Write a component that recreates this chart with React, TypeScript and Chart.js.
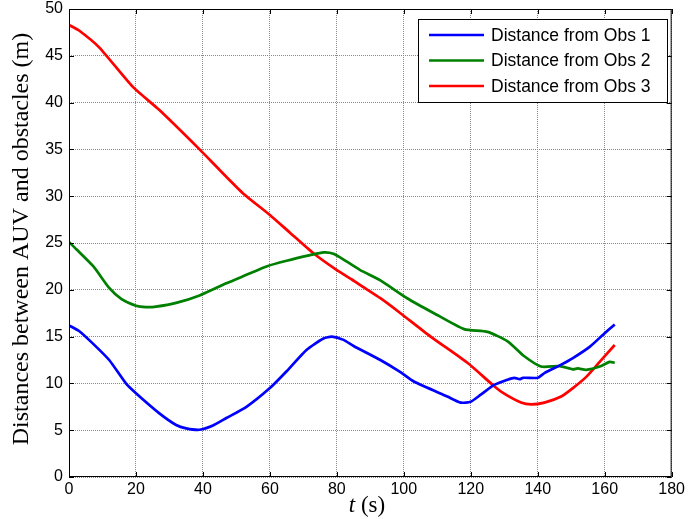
import React, { useEffect, useRef } from "react";
import { Chart, registerables } from "chart.js";

Chart.register(...registerables);

// ---- data ----
const obs1T = [0, 3, 7, 12, 17, 20, 27, 32, 35, 39, 43, 47, 53, 60, 65, 71, 76, 78.5, 82, 85, 93, 99, 103, 113, 117, 120, 123, 127, 131, 133, 134.6, 135.6, 140, 142, 147, 150.5, 155.5, 159.5, 163];
const obs1D = [16.2, 15.6, 14.3, 12.5, 10.0, 8.95, 6.8, 5.56, 5.2, 5.05, 5.5, 6.3, 7.5, 9.5, 11.3, 13.6, 14.8, 15.0, 14.65, 14.0, 12.5, 11.2, 10.2, 8.6, 7.95, 8.05, 8.8, 9.84, 10.4, 10.6, 10.45, 10.6, 10.6, 11.1, 12.0, 12.7, 13.9, 15.2, 16.3];

const obs2T = [0, 2.3, 7.3, 12, 15.7, 20, 23, 26, 32, 39, 47, 53, 59, 65, 72, 76, 79, 83, 87, 93, 101, 109, 118, 125, 131, 136, 141, 146.6, 150.5, 152, 154.5, 158.5, 161.5, 163];
const obs2D = [25.1, 24.3, 22.5, 20.2, 19.0, 18.3, 18.15, 18.2, 18.6, 19.4, 20.7, 21.6, 22.5, 23.1, 23.7, 24.0, 23.85, 23.0, 22.1, 21.0, 19.1, 17.5, 15.8, 15.5, 14.5, 12.9, 11.8, 11.85, 11.5, 11.6, 11.45, 11.8, 12.3, 12.2];

const obs3T = [0, 3, 9, 19, 27, 39, 45, 52, 60, 66, 73, 80, 84.5, 87, 93, 99, 108, 119, 127, 130, 135, 138, 142, 147, 150.5, 154.5, 158.5, 163];
const obs3D = [48.3, 47.7, 45.9, 41.7, 39.2, 35.0, 32.8, 30.3, 28.0, 26.1, 23.9, 22.1, 21.1, 20.5, 19.1, 17.5, 15.0, 12.2, 9.7, 8.9, 7.95, 7.75, 7.95, 8.6, 9.5, 10.7, 12.3, 14.1];

const seriesLabels = ["Distance from Obs 1", "Distance from Obs 2", "Distance from Obs 3"];
const seriesColors = ["#0000ff", "#008000", "#ff0000"];

const xTicks = [0, 20, 40, 60, 80, 100, 120, 140, 160, 180];
const yTicks = [0, 5, 10, 15, 20, 25, 30, 35, 40, 45, 50];

const yTitle = "Distances between AUV and obstacles (m)";
const xTitleVar = "t";
const xTitleUnit = " (s)";

const SERIF = '"Liberation Serif", "Times New Roman", serif';
const SANS = '"Liberation Sans", Arial, sans-serif';

const toPoints = (t: number[], d: number[]) => t.map((v, i) => ({ x: v, y: d[i] }));

const decorPlugin = {
  id: "decor",
  afterDraw(chart: any) {
    const { ctx, chartArea } = chart;
    const { left, right, top, bottom } = chartArea;
    const xs = chart.scales.x;
    const ys = chart.scales.y;
    ctx.save();
    // box
    ctx.strokeStyle = "#000";
    ctx.lineWidth = 1;
    ctx.setLineDash([]);
    ctx.strokeRect(left + 0.5, top + 0.5, right - left - 1, bottom - top - 1);
    // inward ticks
    const tl = 5;
    ctx.beginPath();
    xTicks.forEach((v) => {
      const p = Math.round(xs.getPixelForValue(v)) + 0.5;
      ctx.moveTo(p, bottom);
      ctx.lineTo(p, bottom - tl);
      ctx.moveTo(p, top);
      ctx.lineTo(p, top + tl);
    });
    yTicks.forEach((v) => {
      const p = Math.round(ys.getPixelForValue(v)) + 0.5;
      ctx.moveTo(left, p);
      ctx.lineTo(left + tl, p);
      ctx.moveTo(right, p);
      ctx.lineTo(right - tl, p);
    });
    ctx.stroke();

    // y title
    ctx.fillStyle = "#000";
    ctx.font = `24px ${SERIF}`;
    ctx.textAlign = "center";
    ctx.textBaseline = "middle";
    ctx.save();
    ctx.translate(22, 239);
    ctx.rotate(-Math.PI / 2);
    ctx.fillText(yTitle, 0, 0);
    ctx.restore();

    // x title: italic t + (s)
    ctx.textAlign = "left";
    ctx.textBaseline = "alphabetic";
    ctx.font = `italic 23px ${SERIF}`;
    const w1 = ctx.measureText(xTitleVar).width;
    ctx.font = `23px ${SERIF}`;
    const w2 = ctx.measureText(xTitleUnit).width;
    const cx = 367;
    const sx = cx - (w1 + w2) / 2;
    const by = 512;
    ctx.font = `italic 23px ${SERIF}`;
    ctx.fillText(xTitleVar, sx, by);
    ctx.font = `23px ${SERIF}`;
    ctx.fillText(xTitleUnit, sx + w1, by);

    // legend
    const lx = 418, ly = 19, lw = 249, lh = 83;
    ctx.fillStyle = "#fff";
    ctx.fillRect(lx, ly, lw, lh);
    ctx.strokeStyle = "#000";
    ctx.lineWidth = 1;
    ctx.strokeRect(lx + 0.5, ly + 0.5, lw, lh);
    ctx.font = `17.5px ${SANS}`;
    ctx.textBaseline = "middle";
    chart.data.datasets.forEach((ds: any, i: number) => {
      const ry = 35 + i * 25.5;
      ctx.strokeStyle = ds.borderColor;
      ctx.lineWidth = 2.5;
      ctx.beginPath();
      ctx.moveTo(429, ry);
      ctx.lineTo(484, ry);
      ctx.stroke();
      ctx.fillStyle = "#000";
      ctx.fillText(ds.label, 491, ry + 1);
    });
    ctx.restore();
  },
};

export default function App() {
  const ref = useRef<HTMLCanvasElement | null>(null);
  useEffect(() => {
    if (!ref.current) return;
    const datasets = [
      toPoints(obs1T, obs1D),
      toPoints(obs2T, obs2D),
      toPoints(obs3T, obs3D),
    ].map((pts, i) => ({
      label: seriesLabels[i],
      data: pts,
      borderColor: seriesColors[i],
      backgroundColor: seriesColors[i],
      borderWidth: 2.7,
      pointRadius: 0,
      tension: 0.2,
      fill: false,
    }));
    const chart = new Chart(ref.current, {
      type: "line",
      data: { datasets },
      plugins: [decorPlugin],
      options: {
        responsive: false,
        animation: false,
        layout: { padding: { top: 9, right: 16, left: 0, bottom: 0 } },
        plugins: { legend: { display: false }, tooltip: { enabled: false } },
        scales: {
          x: {
            type: "linear",
            min: 0,
            max: 180,
            afterFit: (s: any) => { s.height = 42; },
            afterBuildTicks: (s: any) => { s.ticks = xTicks.map((v) => ({ value: v })); },
            ticks: { color: "#000", font: { family: SANS, size: 16 }, padding: 3, maxRotation: 0, autoSkip: false },
            grid: { color: "#8a8a8a", lineWidth: 1, drawTicks: false },
            border: { display: false, dash: [1, 1] },
          },
          y: {
            type: "linear",
            min: 0,
            max: 50,
            afterFit: (s: any) => { s.width = 69; s.paddingTop = 0; s.paddingBottom = 0; },
            afterBuildTicks: (s: any) => { s.ticks = yTicks.map((v) => ({ value: v })); },
            ticks: { color: "#000", font: { family: SANS, size: 16 }, padding: 6, autoSkip: false },
            grid: { color: "#8a8a8a", lineWidth: 1, drawTicks: false },
            border: { display: false, dash: [1, 1] },
          },
        },
      },
    });
    return () => chart.destroy();
  }, []);
  return (
    <div style={{ position: "fixed", left: 0, top: 0, width: 688, height: 519, background: "#fff" }}>
      <canvas ref={ref} width={688} height={519} style={{ display: "block" }} />
    </div>
  );
}
